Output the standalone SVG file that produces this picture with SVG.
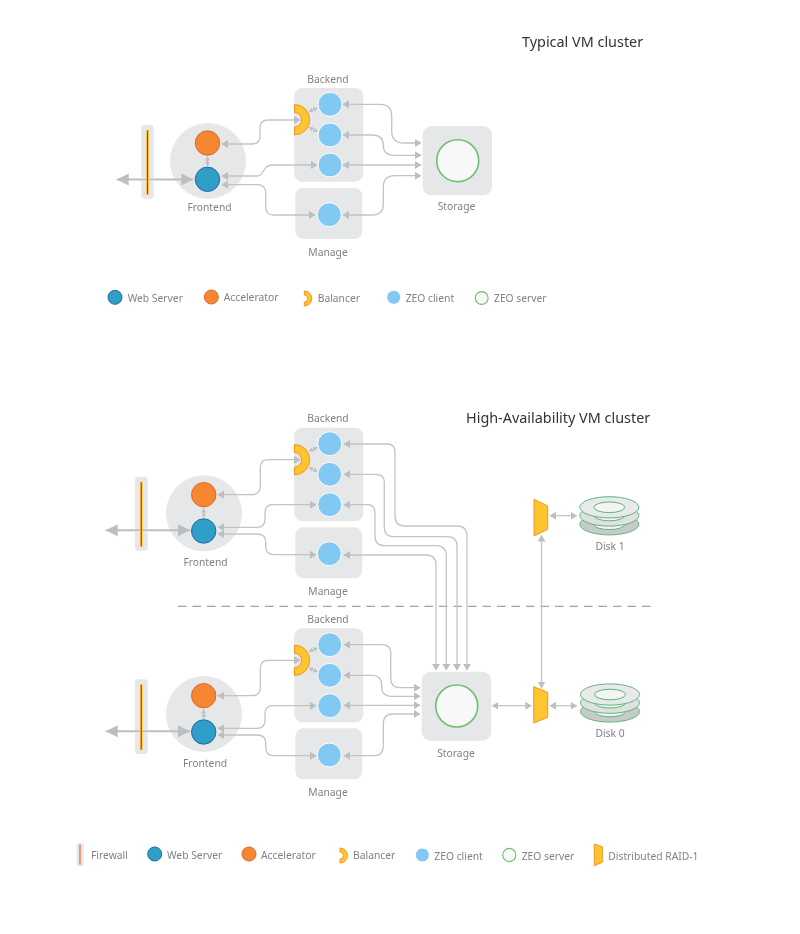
<svg xmlns="http://www.w3.org/2000/svg" xmlns:xlink="http://www.w3.org/1999/xlink" width="800" height="934" viewBox="0 0 800 934">
<style>
text{font-family:"Noto Sans","Liberation Sans",sans-serif;font-size:10.3px;fill:#808285}
.t{font-size:14.4px;fill:#333}
.m{text-anchor:middle}
.box{fill:#e6e7e8}
.fw{fill:#e6e7e8;mix-blend-mode:darken}
.fo{stroke:#fdc52f;stroke-width:2.6;fill:none}
.fi{stroke:#d7261e;stroke-width:1.1;fill:none}
.web{fill:#2f9fc8;stroke:#2268ad;stroke-width:1}
.acc{fill:#f58733;stroke:#e8622a;stroke-width:1}
.cli{fill:#81c8f2;stroke:#fff;stroke-width:1}
.srv{fill:#f8f8f8;stroke:#6dbf6b;stroke-width:1.6}
.bal{fill:#fdc52f;stroke:#f7941e;stroke-width:1}
.con{fill:none;stroke:#c2c3c5;stroke-width:1.3;marker-end:url(#a)}
.dbl{marker-start:url(#a)}
.sm{fill:none;stroke:#bcbec0;stroke-width:1.2;marker-start:url(#s);marker-end:url(#s)}
.big{fill:none;stroke:#bcbec0;stroke-width:2;marker-start:url(#b);marker-end:url(#b)}
.d1{fill:#c8c9cb;stroke:#5cb878;stroke-width:1}
.d2{fill:#dfe0e1;stroke:#5cb878;stroke-width:1}
.d3{fill:#e8e9ea;stroke:#5cb878;stroke-width:1}
.d4{fill:#f4f4f4;stroke:#5cb878;stroke-width:1}
</style>
<defs>
<marker id="a" markerUnits="userSpaceOnUse" markerWidth="8" markerHeight="10" viewBox="0 0 8 10" refX="6" refY="5" orient="auto-start-reverse"><path d="M0 1 L6.5 5 L0 9 Z" fill="#bcbec0"/></marker>
<marker id="s" markerUnits="userSpaceOnUse" markerWidth="6" markerHeight="6" viewBox="0 0 6 6" refX="4" refY="3" orient="auto-start-reverse"><path d="M0 .6 L4 3 L0 5.4 Z" fill="#bcbec0"/></marker>
<marker id="b" markerUnits="userSpaceOnUse" markerWidth="14" markerHeight="14" viewBox="0 0 14 14" refX="12" refY="7" orient="auto-start-reverse"><path d="M0 1 L12 7 L0 13 Z" fill="#bcbec0"/></marker>
<g id="disk">
<ellipse class="d1" cx="0" cy="17" rx="29.5" ry="10.6"/><ellipse class="d4" cx="0" cy="17" rx="15.5" ry="5.3"/>
<ellipse class="d2" cx="0" cy="8.2" rx="29.5" ry="10.6"/><ellipse class="d4" cx="0" cy="8.2" rx="15.5" ry="5.3"/>
<ellipse class="d3" cx="0" cy="0" rx="29.5" ry="10.6"/><ellipse class="d4" cx="0" cy="0" rx="15.5" ry="5.3"/>
</g>
</defs>
<rect width="800" height="934" fill="#fff"/>
<text class="t" x="522" y="47">Typical VM cluster</text>
<text class="t" x="466" y="423">High-Availability VM cluster</text>

<g id="top-frontend"><circle class="box" cx="208" cy="161" r="38"/><text class="m" x="209.5" y="211">Frontend</text></g>
<g id="top-backend"><rect class="box" x="294.3" y="88" width="69" height="93.7" rx="8"/><text class="m" x="328" y="82.5">Backend</text></g>
<g id="top-manage"><rect class="box" x="295.3" y="188" width="67" height="51" rx="8"/><text class="m" x="328" y="256">Manage</text></g>
<g id="top-storage"><rect class="box" x="422.7" y="126" width="69.3" height="69.3" rx="9"/><text class="m" x="456.5" y="210">Storage</text></g>
<g id="top-balancer"><path class="bal" d="M294.5 104.5A15.2 15.2 0 0 1 294.5 134.9V127A7.2 7.2 0 0 0 294.5 112.6Z"/></g>

<g id="ha1-frontend"><circle class="box" cx="204" cy="513.3" r="38"/><text class="m" x="205.5" y="566">Frontend</text></g>
<g id="ha1-backend"><rect class="box" x="294.3" y="427.7" width="69" height="93.3" rx="8"/><text class="m" x="328" y="422">Backend</text></g>
<g id="ha1-manage"><rect class="box" x="295.3" y="527.3" width="67" height="51" rx="8"/><text class="m" x="328" y="595">Manage</text></g>
<g id="ha1-balancer"><path class="bal" d="M294.5 444.5A15.2 15.2 0 0 1 294.5 474.9V467A7.2 7.2 0 0 0 294.5 452.6Z"/></g>

<g id="ha0-frontend"><circle class="box" cx="204" cy="714" r="38"/><text class="m" x="205" y="767">Frontend</text></g>
<g id="ha0-backend"><rect class="box" x="294.3" y="628.3" width="69" height="94" rx="8"/><text class="m" x="328" y="623">Backend</text></g>
<g id="ha0-manage"><rect class="box" x="295.3" y="728.3" width="67" height="51" rx="8"/><text class="m" x="328" y="796">Manage</text></g>
<g id="ha-storage"><rect class="box" x="421.7" y="671.7" width="69.6" height="69" rx="9"/><text class="m" x="456" y="757">Storage</text></g>
<g id="ha0-balancer"><path class="bal" d="M294.5 645.1A15.2 15.2 0 0 1 294.5 675.5V667.6A7.2 7.2 0 0 0 294.5 653.2Z"/></g>

<line x1="178" y1="606.3" x2="653" y2="606.3" stroke="#6d6e71" stroke-width=".8" stroke-dasharray="8.5 6"/>

<g id="connectors">
<path class="big" d="M116.7 179.5H193.3"/>
<path class="sm" d="M207.5 156.5V166"/>
<path class="sm" d="M309 111.5L317.5 108"/>
<path class="sm" d="M309 127.5L317.5 131.5"/>
<path class="con dbl" d="M222 144H252Q260 144 260 136V128Q260 120 268 120H300"/>
<path class="con dbl" d="M222 176H257C265 176 262 165 272 165H317"/>
<path class="con dbl" d="M222 184.7H257Q265.7 184.7 265.7 193V207Q265.7 215 274 215H315"/>
<path class="con dbl" d="M343 104.3H380Q391.7 104.3 391.7 116V131Q391.7 143 404 143H421"/>
<path class="con dbl" d="M343 135H372Q383.3 135 383.3 145.5Q383.3 155.3 394 155.3H421"/>
<path class="con dbl" d="M343 165H421"/>
<path class="con dbl" d="M343 215H372Q383.3 215 383.3 204V187Q383.3 175.7 395 175.7H421"/>

<path class="big" d="M105.7 530.3H190"/>
<path class="sm" d="M203.7 508.5V517.5"/>
<path class="sm" d="M309 451L317.5 447.5"/>
<path class="sm" d="M309 467.5L317.5 471.5"/>
<path class="con dbl" d="M218 494.7H252Q260.3 494.7 260.3 486V468Q260.3 459.7 268 459.7H300"/>
<path class="con dbl" d="M218 527.3H257Q265 527.3 265 519V513Q265 504.7 273 504.7H316"/>
<path class="con dbl" d="M218 534H257Q265.7 534 265.7 542V546Q265.7 554.7 274 554.7H316"/>
<path class="con dbl" d="M344 444H387Q395 444 395 452V516Q395 526 405 526H457Q467 526 467 536V670"/>
<path class="con dbl" d="M344 474.3H376Q384.3 474.3 384.3 482V527Q384.3 536.7 394 536.7H447Q457 536.7 457 546V670"/>
<path class="con dbl" d="M344 504.7H367Q375 504.7 375 513V536Q375 545.7 385 545.7H436Q446.3 545.7 446.3 556V670"/>
<path class="con dbl" d="M344 555H426Q436 555 436 565V670"/>

<path class="big" d="M105.7 731.3H190"/>
<path class="sm" d="M203.7 709.5V718.5"/>
<path class="sm" d="M309 651.5L317.5 648"/>
<path class="sm" d="M309 668L317.5 672"/>
<path class="con dbl" d="M218 695.7H252Q260.3 695.7 260.3 687V669Q260.3 660.3 268 660.3H300"/>
<path class="con dbl" d="M218 728.3H257Q265 728.3 265 720V714Q265 705.7 273 705.7H316"/>
<path class="con dbl" d="M218 735H257Q265.7 735 265.7 743V747Q265.7 755.7 274 755.7H316"/>
<path class="con dbl" d="M344 644.7H382Q390.7 644.7 390.7 653V678Q390.7 687.7 400 687.7H420"/>
<path class="con dbl" d="M344 675.3H372Q381.7 675.3 381.7 685V687Q381.7 696.3 391 696.3H420"/>
<path class="con dbl" d="M344 705.3H420"/>
<path class="con dbl" d="M344 755.7H374Q383.3 755.7 383.3 746V724Q383.3 714 393 714H420"/>

<path class="con dbl" d="M492.3 705.7H531.3"/>
<path class="con dbl" d="M550 705.7H576.7"/>
<path class="con dbl" d="M550 515.7H576.7"/>
<path class="con dbl" d="M541.5 535.5V687.7"/>
</g>

<g id="top-firewall"><rect class="fw" x="141.3" y="124.7" width="12.4" height="74" rx="3"/><path class="fo" d="M147.5 130V194.7"/><path class="fi" d="M147.5 130.5V194.2"/></g>
<g id="top-accelerator"><circle class="acc" cx="207.5" cy="143" r="12.2"/></g>
<g id="top-webserver"><circle class="web" cx="207.5" cy="179.3" r="12.2"/></g>
<g id="top-client1"><circle class="cli" cx="330" cy="104.3" r="12"/></g>
<g id="top-client2"><circle class="cli" cx="330" cy="135" r="12"/></g>
<g id="top-client3"><circle class="cli" cx="330" cy="165" r="12"/></g>
<g id="top-client4"><circle class="cli" cx="329.3" cy="214.7" r="12"/></g>
<g id="top-server"><circle class="srv" cx="457.7" cy="160.7" r="21"/></g>

<g id="ha1-firewall"><rect class="fw" x="135" y="476.7" width="12.7" height="74" rx="3"/><path class="fo" d="M141.3 481.7V546.7"/><path class="fi" d="M141.3 482.2V546.2"/></g>
<g id="ha1-accelerator"><circle class="acc" cx="203.7" cy="494.7" r="12.2"/></g>
<g id="ha1-webserver"><circle class="web" cx="203.7" cy="531" r="12.2"/></g>
<g id="ha1-client1"><circle class="cli" cx="329.7" cy="443.7" r="12"/></g>
<g id="ha1-client2"><circle class="cli" cx="329.7" cy="474.3" r="12"/></g>
<g id="ha1-client3"><circle class="cli" cx="329.7" cy="504.7" r="12"/></g>
<g id="ha1-client4"><circle class="cli" cx="329.3" cy="553.7" r="12"/></g>

<g id="ha0-firewall"><rect class="fw" x="135" y="679.3" width="12.7" height="74.7" rx="3"/><path class="fo" d="M141.3 684.3V750"/><path class="fi" d="M141.3 684.8V749.5"/></g>
<g id="ha0-accelerator"><circle class="acc" cx="203.7" cy="695.7" r="12.2"/></g>
<g id="ha0-webserver"><circle class="web" cx="203.7" cy="732" r="12.2"/></g>
<g id="ha0-client1"><circle class="cli" cx="329.7" cy="644.7" r="12"/></g>
<g id="ha0-client2"><circle class="cli" cx="329.7" cy="675.3" r="12"/></g>
<g id="ha0-client3"><circle class="cli" cx="329.7" cy="705.7" r="12"/></g>
<g id="ha0-client4"><circle class="cli" cx="329.3" cy="755" r="12"/></g>
<g id="ha-server"><circle class="srv" cx="456.7" cy="706" r="21"/></g>

<g id="raid1"><path class="bal" d="M534 499.3L547.7 506V529.3L534 536Z"/></g>
<g id="raid0"><path class="bal" d="M533.7 686.7L547.7 692.3V717.3L533.7 723Z"/></g>
<g id="disk1"><use href="#disk" x="609.3" y="507.3"/><text class="m" x="610" y="550">Disk 1</text></g>
<g id="disk0"><use href="#disk" x="610" y="694.5"/><text class="m" x="610" y="737.3">Disk 0</text></g>

<g id="legend-top">
<circle class="web" cx="115" cy="297.3" r="7"/><text x="127.7" y="302">Web Server</text>
<circle class="acc" cx="211.3" cy="297" r="7"/><text x="223.7" y="301">Accelerator</text>
<path class="bal" d="M304.3 291A7.5 7.5 0 0 1 304.3 306V302A3.5 3.5 0 0 0 304.3 295Z"/><text x="317.7" y="302">Balancer</text>
<circle class="cli" cx="393.7" cy="297.3" r="7"/><text x="405.7" y="302">ZEO client</text>
<circle class="srv" style="stroke-width:1.1" cx="481.7" cy="298" r="6.4"/><text x="494" y="302">ZEO server</text>
</g>
<g id="legend-ha">
<rect class="box" x="76.7" y="843" width="7" height="23" rx="2"/><path d="M80 844.5V864.5" stroke="#f26a2a" stroke-width="1.2"/><text x="91" y="859">Firewall</text>
<circle class="web" cx="154.7" cy="854" r="7"/><text x="167" y="859">Web Server</text>
<circle class="acc" cx="249" cy="854" r="7"/><text x="261" y="859">Accelerator</text>
<path class="bal" d="M340 848A7.5 7.5 0 0 1 340 863V859A3.5 3.5 0 0 0 340 852Z"/><text x="353" y="859">Balancer</text>
<circle class="cli" cx="422.3" cy="855" r="7"/><text x="434.3" y="859.5">ZEO client</text>
<circle class="srv" style="stroke-width:1.1" cx="509.3" cy="855" r="6.6"/><text x="521.7" y="859.5">ZEO server</text>
<path class="bal" d="M594.3 844L602.3 846.7V862.3L594.3 865.7Z"/><text x="608.3" y="859.5">Distributed RAID-1</text>
</g>
</svg>
